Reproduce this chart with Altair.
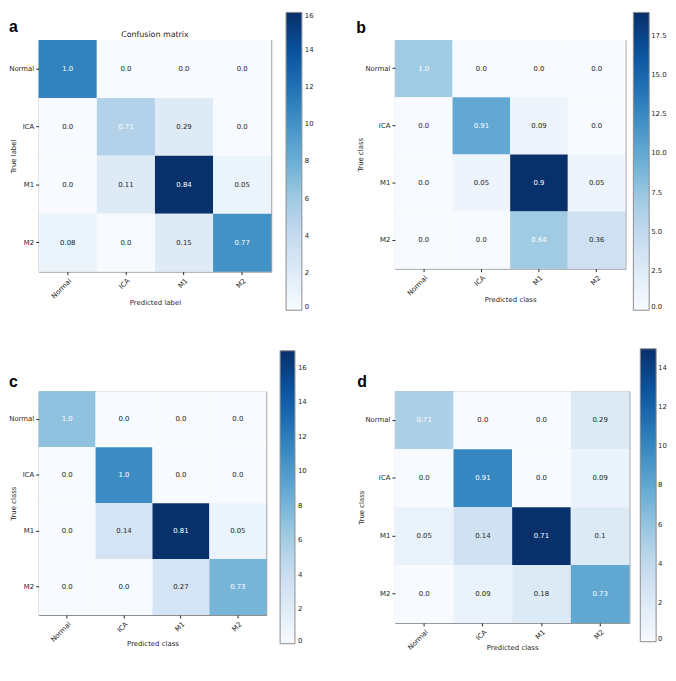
import altair as alt
import pandas as pd

# ---------------- data ----------------
classes = ["Normal", "ICA", "M1", "M2"]
letters = ["a", "b", "c", "d"]
panel_titles = ["Confusion matrix", "", "", ""]
x_titles = ["Predicted label", "Predicted class", "Predicted class", "Predicted class"]
y_titles = ["True label", "True class", "True class", "True class"]

# displayed (row-normalised) values, rows = true class, cols = predicted class
norm_a = [[1.0, 0.0, 0.0, 0.0],
          [0.0, 0.71, 0.29, 0.0],
          [0.0, 0.11, 0.84, 0.05],
          [0.08, 0.0, 0.15, 0.77]]
norm_b = [[1.0, 0.0, 0.0, 0.0],
          [0.0, 0.91, 0.09, 0.0],
          [0.0, 0.05, 0.9, 0.05],
          [0.0, 0.0, 0.64, 0.36]]
norm_c = [[1.0, 0.0, 0.0, 0.0],
          [0.0, 1.0, 0.0, 0.0],
          [0.0, 0.14, 0.81, 0.05],
          [0.0, 0.0, 0.27, 0.73]]
norm_d = [[0.71, 0.0, 0.0, 0.29],
          [0.0, 0.91, 0.0, 0.09],
          [0.05, 0.14, 0.71, 0.1],
          [0.0, 0.09, 0.18, 0.73]]

# counts (drive the cell colour)
count_a = [[11, 0, 0, 0],
           [0, 5, 2, 0],
           [0, 2, 16, 1],
           [1, 0, 2, 10]]
count_b = [[7, 0, 0, 0],
           [0, 10, 1, 0],
           [0, 1, 19, 1],
           [0, 0, 7, 4]]
count_c = [[7, 0, 0, 0],
           [0, 11, 0, 0],
           [0, 3, 17, 1],
           [0, 0, 3, 8]]
count_d = [[5, 0, 0, 2],
           [0, 10, 0, 1],
           [1, 3, 15, 2],
           [0, 1, 2, 8]]

norms = [norm_a, norm_b, norm_c, norm_d]
counts = [count_a, count_b, count_c, count_d]

cbar_max = [16, 19, 17, 15]
cbar_ticks_a = [0, 2, 4, 6, 8, 10, 12, 14, 16]
cbar_ticks_b = [0.0, 2.5, 5.0, 7.5, 10.0, 12.5, 15.0, 17.5]
cbar_ticks_c = [0, 2, 4, 6, 8, 10, 12, 14, 16]
cbar_ticks_d = [0, 2, 4, 6, 8, 10, 12, 14]
cbar_ticks = [cbar_ticks_a, cbar_ticks_b, cbar_ticks_c, cbar_ticks_d]
cbar_format = ["d", ".1f", "d", "d"]

# ---------------- style ----------------
BLUES = ["#f7fbff", "#deebf7", "#c6dbef", "#9ecae1", "#6baed6",
         "#4292c6", "#2171b5", "#08519c", "#08306b"]
FONT = "DejaVu Sans"
TXT = "#262626"
FRAME = "#8c8c8c"

W = [235, 233, 230, 237]
H = [234, 231, 226, 234]
LEG_X = [250, 241, 244, 248]
LEG_Y = [-28, -28, -41, -43]
LEG_LEN = [301, 301, 296, 296]
LEG_THICK = [16, 16, 15, 16]
LEG_LOFF = [3, 2, 3, 2]
LET_X = [-30, -39, -30, -38]
LET_Y = [-8, -7, -4, -4]
YT_X = [-22, -32, -22, -31]
XT_Y = [33, 33, 31, 27]


def panel(i):
    rows = []
    for r, tc in enumerate(classes):
        for c, pc in enumerate(classes):
            v = norms[i][r][c]
            rows.append({"true": tc, "pred": pc, "norm": v,
                         "label": str(float(v)), "count": counts[i][r][c]})
    df = pd.DataFrame(rows)
    m = cbar_max[i]
    dom = [m * k / 8 for k in range(9)]

    xax = alt.Axis(title=x_titles[i], labelAngle=315, labelAlign="right",
                   labelBaseline="top", labelFontSize=7, labelFont=FONT,
                   labelColor=TXT, tickSize=3, tickColor=TXT, labelPadding=2,
                   domain=False, grid=False, titleFont=FONT, titleFontSize=7,
                   titleFontWeight="normal", titleColor=TXT, titleY=XT_Y[i],
                   titleBaseline="alphabetic")
    yax = alt.Axis(title=y_titles[i], labelAngle=0, labelFontSize=7,
                   labelFont=FONT, labelColor=TXT, tickSize=3, tickColor=TXT,
                   labelPadding=2, domain=False, grid=False, titleFont=FONT,
                   titleFontSize=7, titleFontWeight="normal", titleColor=TXT,
                   titleAngle=270, titleX=YT_X[i], titleY=H[i] / 2,
                   titleAlign="center", titleBaseline="bottom")

    base = alt.Chart(df).encode(
        x=alt.X("pred:N", sort=classes,
                scale=alt.Scale(paddingInner=0, paddingOuter=0), axis=xax),
        y=alt.Y("true:N", sort=classes,
                scale=alt.Scale(paddingInner=0, paddingOuter=0), axis=yax),
    )
    rect = base.mark_rect().encode(
        color=alt.Color("count:Q", title=None,
                        scale=alt.Scale(domain=dom, range=BLUES),
                        legend=alt.Legend(
                            orient="none", legendX=LEG_X[i], legendY=LEG_Y[i],
                            direction="vertical", type="gradient",
                            gradientLength=LEG_LEN[i],
                            gradientThickness=LEG_THICK[i],
                            gradientStrokeColor=FRAME,
                            gradientStrokeWidth=1,
                            values=cbar_ticks[i], format=cbar_format[i],
                            labelFont=FONT, labelFontSize=7, labelColor=TXT,
                            labelOffset=LEG_LOFF[i], padding=0, offset=0)))
    text = base.mark_text(font=FONT, fontSize=7).encode(
        text="label:N",
        color=alt.condition("datum.norm > 0.5", alt.value("white"),
                            alt.value(TXT)),
    )
    letter = alt.Chart(pd.DataFrame({"t": [letters[i]]})).mark_text(
        font="Liberation Sans", fontWeight="bold", fontSize=16,
        align="left", baseline="alphabetic", color="black").encode(
        text="t:N", x=alt.value(LET_X[i]), y=alt.value(LET_Y[i]))
    layers = [rect, text, letter]
    if panel_titles[i]:
        ttl = alt.Chart(pd.DataFrame({"t": [panel_titles[i]]})).mark_text(
            font=FONT, fontSize=8, align="center", baseline="alphabetic",
            color=TXT).encode(
            text="t:N", x=alt.value(W[i] / 2), y=alt.value(-3))
        layers.append(ttl)
    return alt.layer(*layers).properties(width=W[i], height=H[i])


chart = alt.concat(
    *[panel(i) for i in range(4)],
    columns=2,
    spacing={"row": 121, "column": 123},
    bounds="flush",
    align="all",
).resolve_scale(
    color="independent", x="independent", y="independent"
).resolve_legend(color="independent").properties(
    padding=0, background="white"
).configure_view(stroke=FRAME, strokeWidth=1)

chart.save("out.html", embed_options={"renderer": "svg", "actions": False})
